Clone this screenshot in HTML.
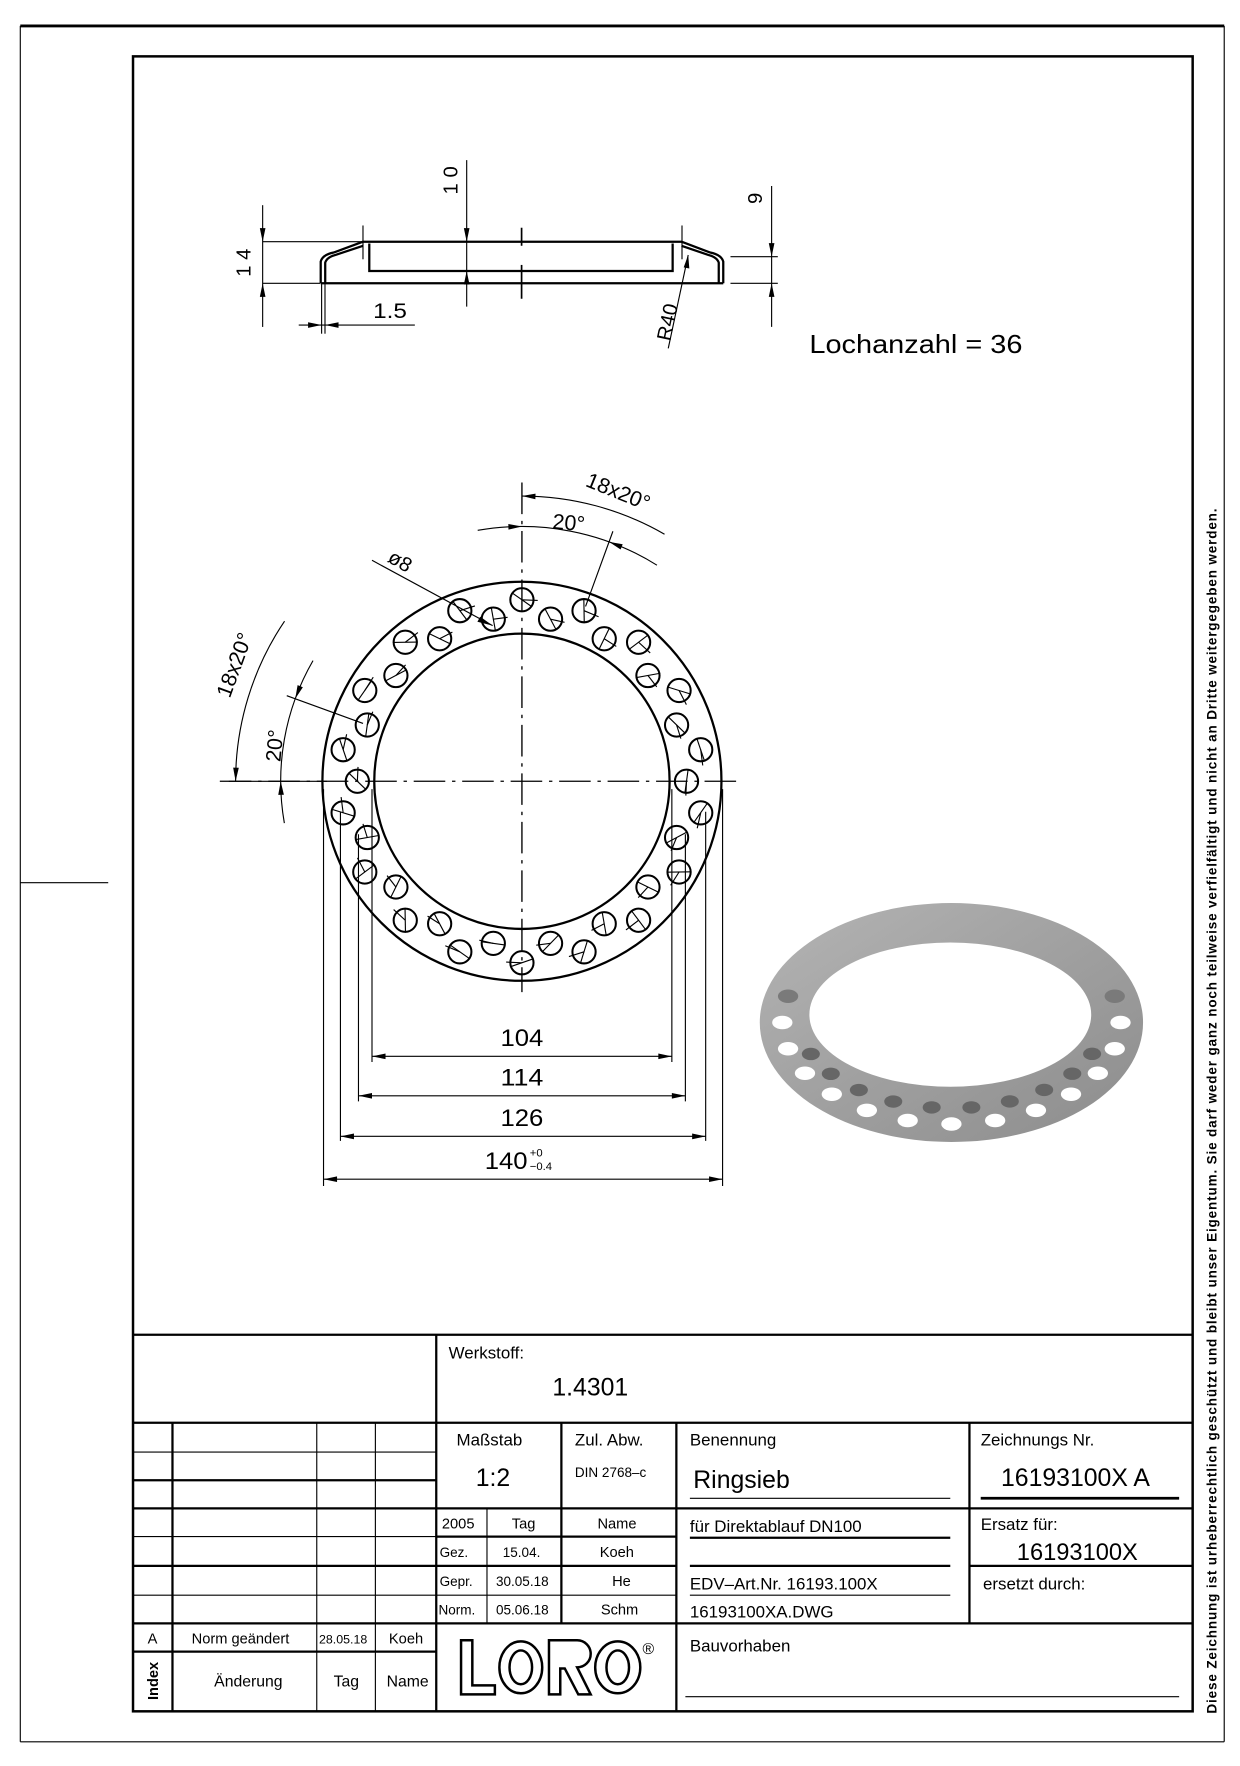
<!DOCTYPE html>
<html><head><meta charset="utf-8"><style>
html,body{margin:0;padding:0;background:#fff}
svg{display:block}
text{font-family:"Liberation Sans",sans-serif;fill:#000}
</style></head><body>
<svg id="s" width="1240" height="1766" viewBox="0 0 1100 1566.5" preserveAspectRatio="none" xmlns="http://www.w3.org/2000/svg">
<defs>
<linearGradient id="g" x1="0" y1="0" x2="1" y2="1"><stop offset="0" stop-color="#b4b4b4"/><stop offset="0.5" stop-color="#a0a0a0"/><stop offset="1" stop-color="#8c8c8c"/></linearGradient>
</defs>
<g fill="none" stroke="#000">
<line x1="18" y1="23" x2="1086" y2="23" stroke-width="2.5"/>
<line x1="18" y1="23" x2="18" y2="1545" stroke-width="1"/>
<line x1="1086" y1="23" x2="1086" y2="1545" stroke-width="1"/>
<line x1="18" y1="1545" x2="1086" y2="1545" stroke-width="1"/>
<line x1="18" y1="783" x2="96" y2="783" stroke-width="1"/>
<rect x="118" y="50" width="940" height="1468" stroke-width="2.2"/>
<g stroke-width="2">
<line x1="118" y1="1184" x2="1058" y2="1184"/>
<line x1="118" y1="1262" x2="1058" y2="1262"/>
<line x1="387" y1="1184" x2="387" y2="1518"/>
<line x1="118" y1="1338" x2="1058" y2="1338"/>
<line x1="118" y1="1440" x2="1058" y2="1440"/>
<line x1="118" y1="1465" x2="387" y2="1465"/>
<line x1="600" y1="1262" x2="600" y2="1518"/>
<line x1="860" y1="1262" x2="860" y2="1440"/>
<line x1="860" y1="1389" x2="1058" y2="1389"/>
<line x1="153" y1="1262" x2="153" y2="1518"/>
<line x1="498" y1="1262" x2="498" y2="1440"/>
<line x1="387" y1="1363" x2="600" y2="1363"/>
<line x1="387" y1="1389" x2="600" y2="1389"/>
<line x1="118" y1="1313" x2="387" y2="1313"/>
<line x1="118" y1="1389" x2="387" y2="1389"/>
<line x1="870" y1="1329" x2="1046" y2="1329" stroke-width="2.5"/>
</g>
<g stroke-width="1">
<line x1="281" y1="1262" x2="281" y2="1518"/>
<line x1="333" y1="1262" x2="333" y2="1518"/>
<line x1="118" y1="1288" x2="387" y2="1288"/>
<line x1="118" y1="1363" x2="387" y2="1363"/>
<line x1="118" y1="1415" x2="600" y2="1415"/>
<line x1="432" y1="1338" x2="432" y2="1440"/>
<line x1="612" y1="1329" x2="843" y2="1329"/>
<line x1="612" y1="1415" x2="843" y2="1415"/>
<line x1="608" y1="1505" x2="1046" y2="1505"/>
</g>
<line x1="612" y1="1364" x2="843" y2="1364" stroke-width="2"/>
<line x1="612" y1="1389" x2="843" y2="1389" stroke-width="2"/>
<g stroke-width="2.2">
<path d="M409 1455 h10 v40 h20 v8 h-30 z"/>
<ellipse cx="462" cy="1479" rx="19" ry="23"/><ellipse cx="462" cy="1479" rx="10" ry="15"/>
<path d="M487 1455 h25 a12 12 0 0 1 0 24 l12 24 h-11 l-12 -23 h-4 v23 h-10 z"/>
<ellipse cx="548" cy="1479" rx="20" ry="23"/><ellipse cx="548" cy="1479" rx="10" ry="15"/>
</g>
<g stroke-width="2">
<path d="M322 214.4 H604.6"/>
<path d="M284.5 251.3 H641.6"/>
<path d="M327.6 216 V240.4 H596.7 V216"/>
<path d="M284.5 251.3 V232 Q286 226 296 224 L322 214.4"/>
<path d="M288.5 251.3 V233 Q290 228 298 226 L322 218"/>
<path d="M641.6 251.3 V232 Q640 226 630 224 L604.6 214.4"/>
<path d="M637.6 251.3 V233 Q636 228 628 226 L604.6 218"/>
</g>
<g stroke-width="1">
<line x1="233" y1="182" x2="233" y2="290"/>
<line x1="233" y1="214.4" x2="322" y2="214.4"/>
<line x1="233" y1="251.3" x2="284" y2="251.3"/>
<line x1="414" y1="142" x2="414" y2="272"/>
<line x1="684.5" y1="165" x2="684.5" y2="290"/>
<line x1="648" y1="227.7" x2="690" y2="227.7"/>
<line x1="648" y1="251.3" x2="690" y2="251.3"/>
<line x1="462.7" y1="202" x2="462.7" y2="218" stroke-width="1.5"/>
<line x1="462.7" y1="235" x2="462.7" y2="265" stroke-width="1.5"/>
<line x1="265" y1="288.3" x2="368" y2="288.3"/>
<line x1="285.3" y1="252" x2="285.3" y2="296"/>
<line x1="288.3" y1="252" x2="288.3" y2="296"/>
<line x1="592.8" y1="309" x2="610.5" y2="226.2"/>
<line x1="322" y1="200" x2="322" y2="230"/>
<line x1="605" y1="200" x2="605" y2="230"/>
</g>
</g>
<g fill="#000">
<path d="M233 214.4 l-2.5 -12 h5 z M233 251.3 l-2.5 12 h5 z"/>
<path d="M414 214.4 l-2.5 -12 h5 z M414 240.4 l-2.5 12 h5 z"/>
<path d="M684.5 227.7 l-2.5 -12 h5 z M684.5 251.3 l-2.5 12 h5 z"/>
<path d="M285.3 288.3 l-12 -2.5 v5 z M288.3 288.3 l12 -2.5 v5 z"/>
<path d="M610.5 226.2 l-4 11 l5 1 z"/>
</g>
<text transform="translate(222,233) rotate(-90)" text-anchor="middle" font-size="18">1 4</text>
<text transform="translate(406,160) rotate(-90)" text-anchor="middle" font-size="18">1 0</text>
<text transform="translate(676,176) rotate(-90)" text-anchor="middle" font-size="18">9</text>
<text x="331" y="282" font-size="19" textLength="30" lengthAdjust="spacingAndGlyphs">1.5</text>
<text transform="translate(598,287) rotate(-78)" text-anchor="middle" font-size="18">R40</text>
<text x="718" y="313" font-size="23" textLength="189" lengthAdjust="spacingAndGlyphs">Lochanzahl  =  36</text>

<path d="M674 907 a170 106 0 1 0 340 0 a170 106 0 1 0 -340 0 Z M718 900 a125 64 0 1 0 250 0 a125 64 0 1 0 -250 0 Z" fill="url(#g)" fill-rule="evenodd"/>
<g id="rh"></g>

<g fill="none" stroke="#000">
<circle cx="463" cy="693" r="177" stroke-width="2"/>
<circle cx="463" cy="693" r="131" stroke-width="2"/>
<line x1="195" y1="693" x2="655" y2="693" stroke-width="1.2" stroke-dasharray="28,6,3,6"/>
<line x1="463" y1="428" x2="463" y2="880" stroke-width="1.2" stroke-dasharray="28,6,3,6"/>
<g id="holes" stroke-width="1.8"></g>
<g stroke-width="1">
<line x1="287" y1="700" x2="287" y2="1052"/><line x1="641" y1="700" x2="641" y2="1052"/>
<line x1="302" y1="720" x2="302" y2="1012"/><line x1="626" y1="720" x2="626" y2="1012"/>
<line x1="318" y1="740" x2="318" y2="977"/><line x1="608" y1="740" x2="608" y2="977"/>
<line x1="330" y1="700" x2="330" y2="942"/><line x1="596" y1="700" x2="596" y2="942"/>
<line x1="330" y1="937" x2="596" y2="937"/>
<line x1="318" y1="972" x2="608" y2="972"/>
<line x1="302" y1="1008" x2="626" y2="1008"/>
<line x1="287" y1="1046" x2="641" y2="1046"/>
<line x1="330" y1="497" x2="437" y2="555"/>
</g>
<g id="arcs" stroke-width="1"></g>
</g>
<g fill="#000">
<path d="M330 937 l12 -2.5 v5 z M596 937 l-12 -2.5 v5 z"/>
<path d="M318 972 l12 -2.5 v5 z M608 972 l-12 -2.5 v5 z"/>
<path d="M302 1008 l12 -2.5 v5 z M626 1008 l-12 -2.5 v5 z"/>
<path d="M287 1046 l12 -2.5 v5 z M641 1046 l-12 -2.5 v5 z"/>
<path d="M437 555 l-11 -8 l-2.5 4.5 z"/>
<g id="arrs"></g>
</g>
<text x="463" y="928" text-anchor="middle" font-size="21" textLength="38" lengthAdjust="spacingAndGlyphs">104</text>
<text x="463" y="963" text-anchor="middle" font-size="21" textLength="38" lengthAdjust="spacingAndGlyphs">114</text>
<text x="463" y="999" text-anchor="middle" font-size="21" textLength="38" lengthAdjust="spacingAndGlyphs">126</text>
<text x="430" y="1037" font-size="21" textLength="38" lengthAdjust="spacingAndGlyphs">140</text>
<text x="470" y="1026" font-size="10">+0</text>
<text x="470" y="1038" font-size="10">−0.4</text>
<text transform="translate(546,442) rotate(22)" text-anchor="middle" font-size="19">18x20°</text>
<text transform="translate(504,470) rotate(5)" text-anchor="middle" font-size="19">20°</text>
<text transform="translate(352,503) rotate(30)" text-anchor="middle" font-size="18">ø8</text>
<text transform="translate(214,592) rotate(-70)" text-anchor="middle" font-size="19">18x20°</text>
<text transform="translate(250,662) rotate(-85)" text-anchor="middle" font-size="19">20°</text>

<g font-size="15">
<text x="398" y="1205">Werkstoff:</text>
<text x="490" y="1238" font-size="22">1.4301</text>
<text x="405" y="1282">Maßstab</text>
<text x="510" y="1282">Zul. Abw.</text>
<text x="612" y="1282">Benennung</text>
<text x="870" y="1282">Zeichnungs Nr.</text>
<text x="422" y="1318" font-size="22">1:2</text>
<text x="510" y="1310" font-size="12">DIN 2768–c</text>
<text x="615" y="1320" font-size="22">Ringsieb</text>
<text x="888" y="1318" font-size="22">16193100X  A</text>
<text x="392" y="1356" font-size="13">2005</text>
<text x="454" y="1356" font-size="13">Tag</text>
<text x="530" y="1356" font-size="13">Name</text>
<text x="612" y="1359">für Direktablauf DN100</text>
<text x="870" y="1357">Ersatz für:</text>
<text x="902" y="1384" font-size="21">16193100X</text>
<text x="390" y="1381" font-size="12">Gez.</text>
<text x="446" y="1381" font-size="12">15.04.</text>
<text x="532" y="1381" font-size="13">Koeh</text>
<text x="390" y="1407" font-size="12">Gepr.</text>
<text x="440" y="1407" font-size="12">30.05.18</text>
<text x="543" y="1407" font-size="13">He</text>
<text x="612" y="1410">EDV–Art.Nr. 16193.100X</text>
<text x="872" y="1410">ersetzt durch:</text>
<text x="389" y="1432" font-size="12">Norm.</text>
<text x="440" y="1432" font-size="12">05.06.18</text>
<text x="533" y="1432" font-size="13">Schm</text>
<text x="612" y="1435">16193100XA.DWG</text>
<text x="612" y="1465">Bauvorhaben</text>
<text x="131" y="1458" font-size="13">A</text>
<text x="170" y="1458" font-size="13">Norm geändert</text>
<text x="283" y="1458" font-size="11">28.05.18</text>
<text x="345" y="1458" font-size="13">Koeh</text>
<text transform="translate(140,1508) rotate(-90)" font-size="13" font-weight="bold">Index</text>
<text x="190" y="1496" font-size="14">Änderung</text>
<text x="296" y="1496" font-size="14">Tag</text>
<text x="343" y="1496" font-size="14">Name</text>
<text x="570" y="1467" font-size="14">®</text>
</g>
<text transform="translate(1079,1520) rotate(-90)" font-size="12" font-weight="bold" textLength="1069" lengthAdjust="spacing">Diese Zeichnung ist urheberrechtlich geschützt und bleibt unser Eigentum. Sie darf weder ganz noch teilweise verfielfältigt und nicht an Dritte weitergegeben werden.</text>
</svg>
<script>
var NS="http://www.w3.org/2000/svg",cx=463,cy=693;
function el(p,t,a){var e=document.createElementNS(NS,t);for(var k in a)e.setAttribute(k,a[k]);p.appendChild(e);return e;}
function pt(r,d){var a=d*Math.PI/180;return [cx+r*Math.sin(a),cy-r*Math.cos(a)];}
var H=document.getElementById("holes");
for(var i=0;i<36;i++){var outer=i%2==0,d=i*10,r=outer?161:146;var p=pt(r,d);
el(H,"circle",{cx:p[0].toFixed(1),cy:p[1].toFixed(1),r:10.3});
var a=(d+35+i*17)*Math.PI/180;
el(H,"line",{x1:(p[0]-11*Math.cos(a)).toFixed(1),y1:(p[1]-11*Math.sin(a)).toFixed(1),x2:(p[0]+11*Math.cos(a)).toFixed(1),y2:(p[1]+11*Math.sin(a)).toFixed(1),"stroke-width":1});
var q=pt(r,d+5);el(H,"line",{x1:p[0].toFixed(1),y1:p[1].toFixed(1),x2:q[0].toFixed(1),y2:q[1].toFixed(1),"stroke-width":1});}
var A=document.getElementById("arcs");
function arc(r,d1,d2){var p=pt(r,d1),q=pt(r,d2);el(A,"path",{d:"M"+p[0]+" "+p[1]+" A"+r+" "+r+" 0 0 1 "+q[0]+" "+q[1]});}
arc(253,0,30);arc(226,-10,32);arc(254,-90,-56);arc(214,-100,-60);
function ln(r1,r2,d){var p=pt(r1,d),q=pt(r2,d);el(A,"line",{x1:p[0],y1:p[1],x2:q[0],y2:q[1]});}
ln(165,236,20);ln(150,222,-70);
el(A,"line",{x1:203,y1:693,x2:290,y2:693});
var R=document.getElementById("arrs");
function arr(r,d,dir){var p=pt(r,d),q=pt(r,d+dir*3.2);var dx=q[0]-p[0],dy=q[1]-p[1],L=Math.hypot(dx,dy),ux=dx/L,uy=dy/L;
var bx=p[0]+ux*12,by=p[1]+uy*12;el(R,"path",{d:"M"+p[0]+" "+p[1]+" L"+(bx-uy*2.5)+" "+(by+ux*2.5)+" L"+(bx+uy*2.5)+" "+(by-ux*2.5)+"z"});}
arr(253,0,1);arr(226,0,-1);arr(226,20,1);arr(254,-90,1);arr(214,-90,-1);arr(214,-70,1);
var RH=document.getElementById("rh");
for(var j=0;j<24;j++){var t=(j/24)*2*Math.PI;var s=Math.sin(t);if(s<-0.5)continue;
var x=844+150*Math.cos(t),y=907+90*s;el(RH,"ellipse",{cx:x.toFixed(1),cy:y.toFixed(1),rx:9,ry:6,fill:s>-0.1?"#fff":"#7a7a7a"});
var t2=t+0.13,s2=Math.sin(t2);if(s2>0.2){var x2=844+135*Math.cos(t2),y2=905+78*s2;el(RH,"ellipse",{cx:x2.toFixed(1),cy:y2.toFixed(1),rx:8,ry:5.5,fill:"#666"});}}
</script>
</body></html>
